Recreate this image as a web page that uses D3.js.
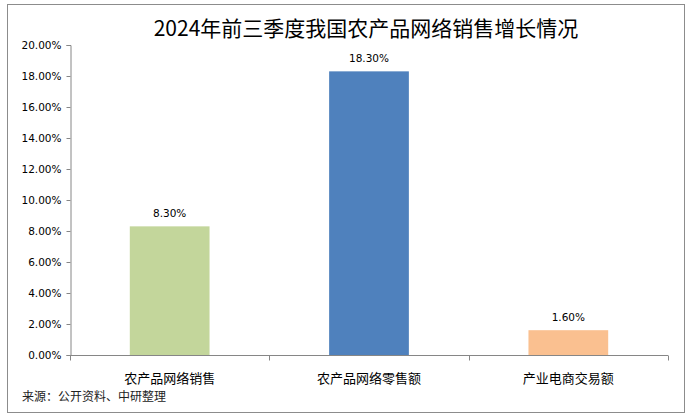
<!DOCTYPE html>
<html><head><meta charset="utf-8">
<script src="https://cdn.jsdelivr.net/npm/d3@7"></script>
<style>body{margin:0;background:#fff}svg{display:block}</style>
</head><body>
<svg id="c" width="691" height="417"></svg>
<script>
const categories = ["农产品网络销售", "农产品网络零售额", "产业电商交易额"];
const values = [8.30, 18.30, 1.60];
const yTicks = [0, 2, 4, 6, 8, 10, 12, 14, 16, 18, 20];
const colors = ["#C3D69B", "#4F81BD", "#FAC090"];
const title = "2024年前三季度我国农产品网络销售增长情况";
const source = "来源：公开资料、中研整理";

const svg = d3.select("#c");
svg.append("rect").attr("x", 7.5).attr("y", 4.5).attr("width", 677).attr("height", 408)
  .attr("fill", "#fff").attr("stroke", "#8c8c8c");

const m = {l: 70, r: 668, t: 45, b: 355};
const x = d3.scaleBand().domain(categories).range([m.l, m.r]).paddingInner(0.6).paddingOuter(0.3);
const xb = d3.scaleBand().domain(categories).range([m.l, m.r]);
const y = d3.scaleLinear().domain([0, 20]).range([m.b, m.t]);

svg.append("text").attr("x", 366).attr("y", 36).attr("text-anchor", "middle")
  .attr("font-family", "Noto Sans CJK SC").attr("font-size", 21).attr("fill", "#000").text(title);

const ya = svg.append("g").attr("transform", `translate(${m.l + 0.5},0)`)
  .call(d3.axisLeft(y).tickValues(yTicks).tickSize(4).tickPadding(5).tickFormat(d => d3.format(".2f")(d) + "%"));
ya.selectAll("line,path").attr("stroke", "#868686");
ya.selectAll("text").attr("font-family", "DejaVu Sans").attr("font-size", 10.5).attr("fill", "#000");

svg.selectAll("rect.bar").data(values).join("rect").attr("class", "bar")
  .attr("x", (d, i) => x(categories[i])).attr("width", x.bandwidth())
  .attr("y", d => y(d)).attr("height", d => y(0) - y(d)).attr("fill", (d, i) => colors[i]);

svg.selectAll("text.val").data(values).join("text").attr("class", "val")
  .attr("x", (d, i) => x(categories[i]) + x.bandwidth() / 2).attr("y", d => y(d) - 9)
  .attr("text-anchor", "middle").attr("font-family", "DejaVu Sans").attr("font-size", 10.5)
  .text(d => d3.format(".2f")(d) + "%");

const xa = svg.append("g").attr("transform", `translate(0,${m.b + 0.5})`);
xa.append("line").attr("x1", m.l).attr("x2", m.r).attr("stroke", "#868686");
const edges = categories.map(c => xb(c)).concat([m.r]);
xa.selectAll("line.t").data(edges).join("line").attr("class", "t")
  .attr("x1", d => Math.round(d) + 0.5).attr("x2", d => Math.round(d) + 0.5).attr("y1", 0).attr("y2", 5).attr("stroke", "#868686");
xa.selectAll("text").data(categories).join("text")
  .attr("x", d => xb(d) + xb.bandwidth() / 2).attr("y", 27).attr("text-anchor", "middle")
  .attr("font-family", "Noto Sans CJK SC").attr("font-size", 13).text(d => d);

svg.append("text").attr("x", 22).attr("y", 401).attr("font-family", "Noto Sans CJK SC")
  .attr("font-size", 12).attr("fill", "#222").text(source);
</script>
</body></html>
